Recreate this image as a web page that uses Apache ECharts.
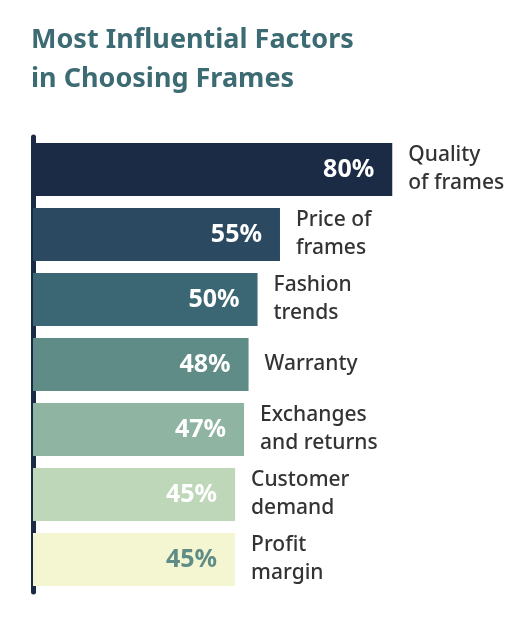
<!DOCTYPE html>
<html><head><meta charset="utf-8">
<script src="https://cdn.jsdelivr.net/npm/echarts@6/dist/echarts.min.js"></script>
<style>html,body{margin:0;padding:0;background:#fff}#c{width:528px;height:618px}</style>
</head><body><div id="c"></div>
<script>
const categories = ["Quality\nof frames","Price of\nframes","Fashion\ntrends","Warranty","Exchanges\nand returns","Customer\ndemand","Profit\nmargin"];
const values = [80,55,50,48,47,45,45];
const colors = ["#1b2a45","#2b4a62","#3b6674","#5f8c87","#8fb5a2","#bed7b8","#f4f6d2"];
const labelColors = ["#fff","#fff","#fff","#fff","#fff","#fff","#5f8c87"];
const chart = echarts.init(document.getElementById('c'));
chart.setOption({
  animation:false,
  title:{text:"Most Influential Factors\nin Choosing Frames",left:26,top:16,
    textStyle:{fontFamily:"Noto Sans",fontWeight:'bold',fontSize:27,lineHeight:39,color:"#3d6b73"}},
  grid:{left:33,right:10,top:137,bottom:26},
  xAxis:{type:'value',min:0,max:108,show:false},
  yAxis:{type:'category',inverse:true,data:categories,
    axisLine:{show:true,lineStyle:{color:"#1b2a45",width:5}},
    axisTick:{show:false},axisLabel:{show:false}},
  series:[
    {type:'bar',barWidth:53,
     data:values.map((v,i)=>({value:v,itemStyle:{color:colors[i]},
        label:{color:labelColors[i]}})),
     label:{show:true,position:'insideRight',distance:18,formatter:'{c}%',
       fontFamily:"Noto Sans",fontWeight:'bold',fontSize:25}},
    {type:'bar',barWidth:53,barGap:'-100%',
     data:values.map((v,i)=>({value:v,itemStyle:{color:'rgba(0,0,0,0)'}})),
     label:{show:true,position:'right',distance:16,formatter:p=>categories[p.dataIndex],
       fontFamily:"Noto Sans",fontWeight:500,fontSize:21,lineHeight:28,color:"#333"}}
  ]
});
</script></body></html>
